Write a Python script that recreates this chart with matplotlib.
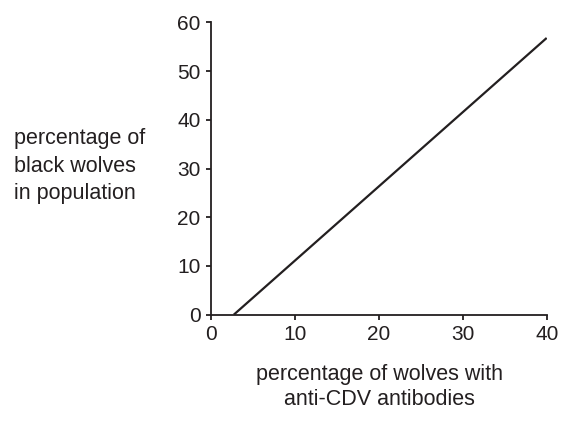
import matplotlib
matplotlib.use("Agg")
import matplotlib.pyplot as plt

# antibody % vs black wolf %
antibody_pct = [2.66, 40]
black_pct = [0, 56.8]

x_ticks = [0, 10, 20, 30, 40]
y_ticks = [0, 10, 20, 30, 40, 50, 60]

plt.rcParams["font.family"] = ["Liberation Sans", "DejaVu Sans"]
ink = "#231f20"

fig = plt.figure(figsize=(5.61, 4.22), dpi=100)
ax = fig.add_axes([0.377, 0.2543, 0.5975, 0.6927])

ax.plot(antibody_pct, black_pct, color=ink, linewidth=1.6, solid_capstyle="butt")

ax.set_xlim(0, 40)
ax.set_ylim(0, 60)
ax.set_xticks(x_ticks)
ax.set_yticks(y_ticks)
ax.spines["top"].set_visible(False)
ax.spines["right"].set_visible(False)
for s in ["left", "bottom"]:
    ax.spines[s].set_linewidth(1.3)
    ax.spines[s].set_color(ink)
ax.tick_params(direction="out", length=3.5, width=1.3, color=ink,
               labelsize=15, labelcolor=ink)
ax.tick_params(axis="y", pad=4.5)
ax.tick_params(axis="x", pad=4)

fig.text(0.025, 0.606, "percentage of\nblack wolves\nin population",
         ha="left", va="center", fontsize=15.5, color=ink, linespacing=1.4)
fig.text(0.677, 0.083, "percentage of wolves with\nanti-CDV antibodies",
         ha="center", va="center", fontsize=15.5, color=ink, linespacing=1.22)

fig.savefig("out.png", dpi=100)
